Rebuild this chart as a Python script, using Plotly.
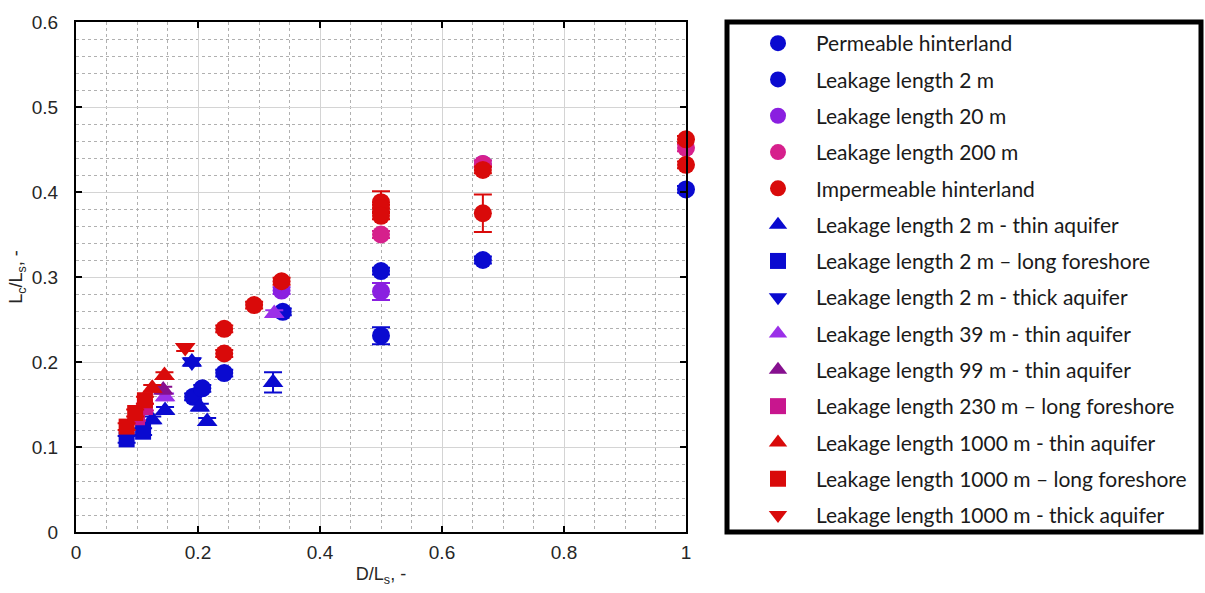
import plotly.graph_objects as go

# ---- data ----
perm_x = [1.0, 0.667, 0.5, 0.339, 0.243, 0.192]
perm_y = [0.403, 0.320, 0.231, 0.259, 0.187, 0.159]
perm_e = [0.004, 0.004, 0.010, 0.004, 0.004, 0.004]

l2_x = [0.5, 0.207]
l2_y = [0.307, 0.169]
l2_e = [0.004, 0.004]

l20_x = [0.667, 0.5, 0.337]
l20_y = [0.433, 0.283, 0.284]
l20_e = [0.004, 0.010, 0.004]

l200_x = [1.0, 0.667, 0.5]
l200_y = [0.452, 0.433, 0.350]
l200_e = [0.004, 0.004, 0.004]

imp_x = [1.0, 1.0, 0.667, 0.667, 0.5, 0.5, 0.5, 0.337, 0.292, 0.243, 0.243]
imp_y = [0.462, 0.432, 0.426, 0.375, 0.388, 0.381, 0.372, 0.295, 0.267, 0.239, 0.210]
imp_e = [0.004, 0.004, 0.004, 0.022, 0.013, 0.004, 0.004, 0.004, 0.004, 0.004, 0.004]

l2thin_x = [0.323, 0.215, 0.203, 0.190, 0.146, 0.125]
l2thin_y = [0.176, 0.130, 0.147, 0.200, 0.143, 0.132]
l2thin_e = [0.012, 0.004, 0.004, 0.004, 0.004, 0.004]

l2long_x = [0.083, 0.110]
l2long_y = [0.109, 0.118]
l2long_e = [0.004, 0.004]

l2thick_x = [0.190]
l2thick_y = [0.200]
l2thick_e = [0.004]

l39thin_x = [0.325, 0.146]
l39thin_y = [0.257, 0.159]
l39thin_e = [0.004, 0.004]

l99thin_x = [0.143]
l99thin_y = [0.167]
l99thin_e = [0.004]

l230long_x = [0.100, 0.113]
l230long_y = [0.135, 0.147]
l230long_e = [0.004, 0.004]

l1000thin_x = [0.145, 0.125]
l1000thin_y = [0.184, 0.169]
l1000thin_e = [0.004, 0.004]

l1000long_x = [0.083, 0.097, 0.113]
l1000long_y = [0.124, 0.140, 0.155]
l1000long_e = [0.004, 0.004, 0.004]

l1000thick_x = [0.179]
l1000thick_y = [0.217]
l1000thick_e = [0.004]

BLUE = "#0a0ad0"
PURPLE = "#8a1fe0"
PINK = "#d6208c"
RED = "#d90a0a"
VIOLET = "#9b30e8"
DPURPLE = "#86108f"
MAG = "#c8168e"

series = [
    ("Permeable hinterland", perm_x, perm_y, perm_e, BLUE, "circle", 18),
    ("Leakage length 2 m", l2_x, l2_y, l2_e, BLUE, "circle", 18),
    ("Leakage length 20 m", l20_x, l20_y, l20_e, PURPLE, "circle", 18),
    ("Leakage length 200 m", l200_x, l200_y, l200_e, PINK, "circle", 18),
    ("Impermeable hinterland", imp_x, imp_y, imp_e, RED, "circle", 18),
    ("Leakage length 2 m - thin aquifer", l2thin_x, l2thin_y, l2thin_e, BLUE, "triangle-up", 18),
    ("Leakage length 2 m \u2013 long foreshore", l2long_x, l2long_y, l2long_e, BLUE, "square", 16),
    ("Leakage length 2 m - thick aquifer", l2thick_x, l2thick_y, l2thick_e, BLUE, "triangle-down", 18),
    ("Leakage length 39 m - thin aquifer", l39thin_x, l39thin_y, l39thin_e, VIOLET, "triangle-up", 18),
    ("Leakage length 99 m - thin aquifer", l99thin_x, l99thin_y, l99thin_e, DPURPLE, "triangle-up", 18),
    ("Leakage length 230 m \u2013 long foreshore", l230long_x, l230long_y, l230long_e, MAG, "square", 16),
    ("Leakage length 1000 m - thin aquifer", l1000thin_x, l1000thin_y, l1000thin_e, RED, "triangle-up", 18),
    ("Leakage length 1000 m \u2013 long foreshore", l1000long_x, l1000long_y, l1000long_e, RED, "square", 16),
    ("Leakage length 1000 m - thick aquifer", l1000thick_x, l1000thick_y, l1000thick_e, RED, "triangle-down", 18),
]

fig = go.Figure()
for i, (name, xs, ys, es, col, sym, sz) in enumerate(series):
    fig.add_trace(go.Scatter(
        x=xs, y=ys, mode="markers", name=name, legendgroup=str(i),
        marker=dict(color=col, symbol=sym, size=sz, line=dict(width=0)),
        error_y=dict(type="data", array=es, visible=True, color=col, thickness=2, width=9),
        cliponaxis=False,
    ))

axis_common = dict(
    showline=True, linecolor="black", linewidth=2, mirror="ticks",
    ticks="inside", ticklen=6, tickwidth=2, tickcolor="black",
    showgrid=True, gridcolor="#d4d4d4", gridwidth=1.2,
    zeroline=False,
    tickfont=dict(family="Liberation Sans, Arial", size=19, color="#262626"),
)

fig.update_xaxes(
    range=[0, 1], dtick=0.2, tickformat="~g", ticklabelstandoff=2,
    minor=dict(dtick=0.05, showgrid=True, griddash="dot", gridcolor="#b0b0b0", gridwidth=1.2),
    title=dict(text="D/L<sub>s</sub>, -", font=dict(family="Liberation Sans, Arial", size=18, color="#262626"), standoff=6),
    **axis_common,
)
fig.update_yaxes(
    range=[0, 0.6], dtick=0.1, tickformat="~g", ticklabelstandoff=12,
    minor=dict(dtick=0.02, showgrid=True, griddash="dot", gridcolor="#b0b0b0", gridwidth=1.2),
    title=dict(text="L<sub>c</sub>/L<sub>s</sub>, -", font=dict(family="Liberation Sans, Arial", size=18, color="#262626"), standoff=4),
    **axis_common,
)

fig.add_shape(type="rect", xref="paper", yref="paper",
              x0=(727 - 76) / 610, x1=(1201 - 76) / 610,
              y0=(533 - 533) / 514, y1=(533 - 19) / 514,
              line=dict(color="black", width=5), fillcolor="rgba(0,0,0,0)")

fig.update_layout(
    width=1205, height=593,
    margin=dict(l=76, r=519, t=19, b=60),
    plot_bgcolor="white", paper_bgcolor="white",
    showlegend=True,
    legend=dict(
        x=(740 - 76) / 610, y=(533 - 20) / 514, xanchor="left", yanchor="top",
        font=dict(family="Lato, Noto Sans", size=21, color="#1a1a1a"),
        bgcolor="rgba(0,0,0,0)", borderwidth=0,
        tracegroupgap=6, itemwidth=66, itemsizing="trace",
        maxheight=593,
    ),
)

fig.write_html("out.html")
